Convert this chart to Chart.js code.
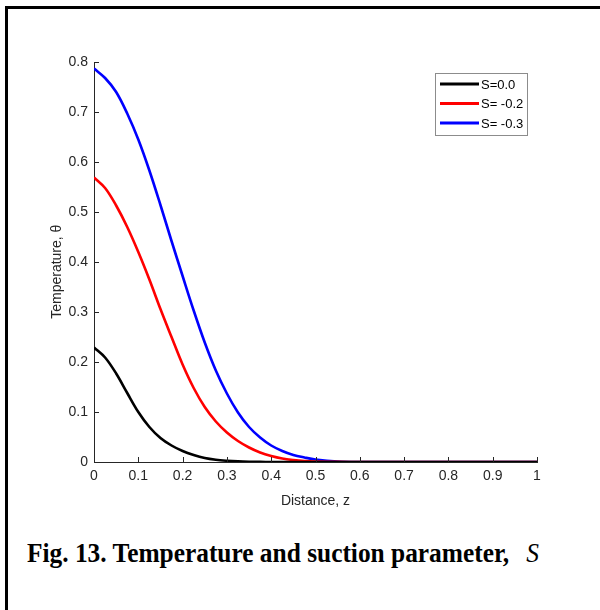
<!DOCTYPE html>
<html>
<head>
<meta charset="utf-8">
<script src="https://cdn.jsdelivr.net/npm/chart.js@4"></script>
<style>
  body { margin: 0; background: #fff; }
  #frame {
    position: absolute; left: 5px; top: 6px; width: 600px; height: 610px;
    border-left: 3px solid #000; border-top: 3px solid #000;
  }
  #wrap { position: absolute; left: 0; top: 0; width: 600px; height: 520px; }
  #caption {
    position: absolute; left: 27px; top: 538px; white-space: nowrap;
    font: bold 27px "Liberation Serif", "Times New Roman", serif; color: #000;
    transform: scaleX(0.94); transform-origin: left top;
  }
  #caption span { font-style: italic; font-weight: normal; margin-left: 18px; }
</style>
</head>
<body>
<div id="frame"></div>
<div id="wrap"><canvas id="chart" width="600" height="520"></canvas></div>
<div id="caption">Fig. 13. Temperature and suction parameter,<span>S</span></div>
<script>
const distance = [0, 0.025, 0.05, 0.075, 0.1, 0.125, 0.15, 0.175, 0.2, 0.225, 0.25, 0.275, 0.3, 0.325,
                  0.35, 0.375, 0.4, 0.425, 0.45, 0.475, 0.5, 0.55, 0.6, 0.7, 0.8, 0.9, 1.0];
const thetaS0 = [0.229, 0.209, 0.177, 0.138, 0.100, 0.070, 0.048, 0.033, 0.022, 0.014, 0.008, 0.0045, 0.0025, 0.0012,
                 0.0005, 0.0002, 0, 0, 0, 0, 0, 0, 0, 0, 0, 0, 0];
const thetaS02 = [0.569, 0.548, 0.513, 0.470, 0.420, 0.365, 0.306, 0.250, 0.195, 0.148, 0.110, 0.081, 0.059, 0.042,
                  0.029, 0.019, 0.012, 0.007, 0.004, 0.002, 0.001, 0.0002, 0, 0, 0, 0, 0];
const thetaS03 = [0.787, 0.768, 0.740, 0.697, 0.645, 0.583, 0.514, 0.442, 0.372, 0.303, 0.239, 0.183, 0.137, 0.099,
                  0.070, 0.049, 0.033, 0.022, 0.014, 0.009, 0.005, 0.001, 0, 0, 0, 0, 0];
const seriesLabels = ['S=0.0', 'S= -0.2', 'S= -0.3'];
const seriesColors = ['#000000', '#ff0000', '#0000ff'];
const xTicks = [0, 0.1, 0.2, 0.3, 0.4, 0.5, 0.6, 0.7, 0.8, 0.9, 1];
const yTicks = [0, 0.1, 0.2, 0.3, 0.4, 0.5, 0.6, 0.7, 0.8];

const axisColor = '#262626';
const tickFont = { family: 'Liberation Sans, Arial, sans-serif', size: 14 };

function toPoints(ys) {
    return distance.map((x, i) => ({ x: x, y: ys[i] }));
}

// MATLAB style inward ticks
const inwardTicks = {
    id: 'inwardTicks',
    afterDraw(chart) {
        const ctx = chart.ctx;
        const xs = chart.scales.x;
        const ys = chart.scales.y;
        ctx.save();
        ctx.strokeStyle = axisColor;
        ctx.lineWidth = 1;
        ctx.beginPath();
        xTicks.forEach(v => {
            const px = Math.round(xs.getPixelForValue(v)) + 0.5;
            ctx.moveTo(px, ys.bottom);
            ctx.lineTo(px, ys.bottom - 5);
        });
        yTicks.forEach(v => {
            const py = Math.round(ys.getPixelForValue(v)) + 0.5;
            ctx.moveTo(xs.left, py);
            ctx.lineTo(xs.left + 5, py);
        });
        ctx.stroke();
        ctx.restore();
    }
};

// boxed legend in the upper right corner
const boxLegend = {
    id: 'boxLegend',
    afterDraw(chart) {
        const ctx = chart.ctx;
        const left = 435, top = 73, w = 92, h = 62;
        ctx.save();
        ctx.fillStyle = '#fff';
        ctx.fillRect(left, top, w, h);
        ctx.strokeStyle = '#8c8c8c';
        ctx.lineWidth = 1;
        ctx.strokeRect(left + 0.5, top + 0.5, w, h);
        ctx.font = '13px "Liberation Sans", Arial, sans-serif';
        ctx.textBaseline = 'middle';
        chart.data.datasets.forEach((ds, i) => {
            const y = top + 11 + i * 19.5;
            ctx.strokeStyle = ds.borderColor;
            ctx.lineWidth = 3;
            ctx.beginPath();
            ctx.moveTo(440, y);
            ctx.lineTo(479, y);
            ctx.stroke();
            ctx.fillStyle = '#000';
            ctx.fillText(ds.label, 481, y + 1);
        });
        ctx.restore();
    }
};

new Chart(document.getElementById('chart'), {
    type: 'line',
    data: {
        datasets: [thetaS0, thetaS02, thetaS03].map((ys, i) => ({
            label: seriesLabels[i],
            data: toPoints(ys),
            borderColor: seriesColors[i],
            borderWidth: 2.6,
            pointRadius: 0,
            tension: 0.35,
            fill: false
        }))
    },
    options: {
        responsive: false,
        animation: false,
        layout: { padding: { left: 45, right: 63, top: 62, bottom: 6 } },
        plugins: { legend: { display: false }, tooltip: { enabled: false } },
        scales: {
            x: {
                type: 'linear',
                min: 0, max: 1,
                afterFit: s => { s.height = 52; },
                afterBuildTicks: s => { s.ticks = xTicks.map(v => ({ value: v })); },
                grid: { display: false, drawTicks: false },
                border: { display: true, color: axisColor, width: 1 },
                ticks: {
                    color: axisColor, font: tickFont, padding: 6, maxRotation: 0,
                    callback: v => String(+v.toFixed(1))
                },
                title: { display: true, text: 'Distance, z', color: axisColor, font: tickFont, padding: { top: 2, bottom: 4 } }
            },
            y: {
                type: 'linear',
                min: 0, max: 0.8,
                afterFit: s => { s.width = 49; },
                afterBuildTicks: s => { s.ticks = yTicks.map(v => ({ value: v })); },
                grid: { display: false, drawTicks: false },
                border: { display: true, color: axisColor, width: 1 },
                ticks: {
                    color: axisColor, font: tickFont, padding: 6,
                    callback: v => String(+v.toFixed(1))
                },
                title: { display: true, text: 'Temperature, θ     ', color: axisColor, font: tickFont, padding: { top: 4, bottom: 2 } }
            }
        }
    },
    plugins: [inwardTicks, boxLegend]
});
</script>
</body>
</html>
